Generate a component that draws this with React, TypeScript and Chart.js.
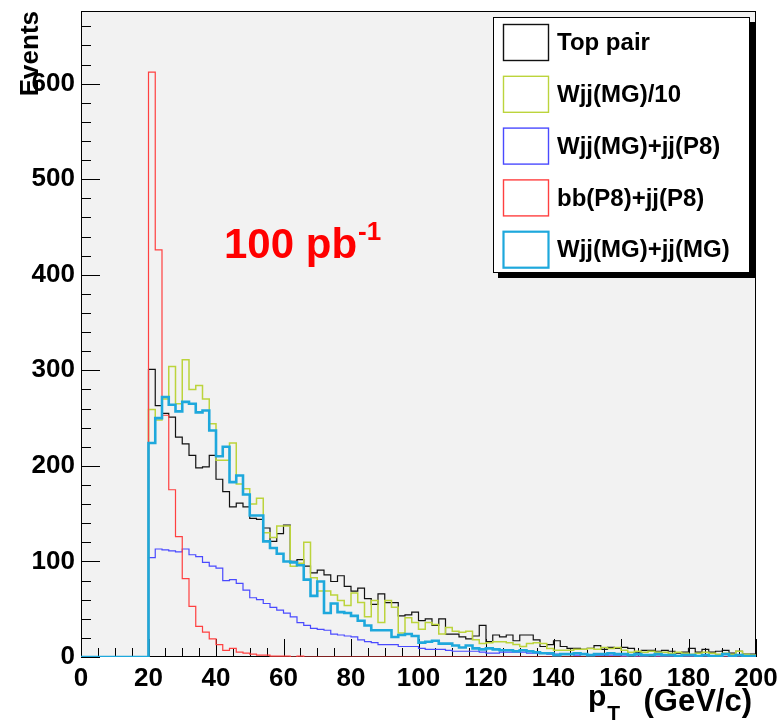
import { useEffect, useRef } from 'react';
import { Chart, registerables } from 'chart.js';
Chart.register(...registerables);

// Bin lower edges (GeV/c), 2 GeV bins
const binEdges = [
  0, 2, 4, 6, 8, 10, 12, 14, 16, 18, 20, 22, 24, 26, 28, 30, 32, 34, 36, 38,
  40, 42, 44, 46, 48, 50, 52, 54, 56, 58, 60, 62, 64, 66, 68, 70, 72, 74, 76, 78,
  80, 82, 84, 86, 88, 90, 92, 94, 96, 98, 100, 102, 104, 106, 108, 110, 112, 114, 116, 118,
  120, 122, 124, 126, 128, 130, 132, 134, 136, 138, 140, 142, 144, 146, 148, 150, 152, 154, 156, 158,
  160, 162, 164, 166, 168, 170, 172, 174, 176, 178, 180, 182, 184, 186, 188, 190, 192, 194, 196, 198,
];
const xMax = 200;
const yMax = 676;

const topPair = [
  0, 0, 0, 0, 0, 0, 0, 0, 0, 0,
  301, 263, 255, 251, 230, 223, 211, 198, 199, 211,
  186, 173, 157, 161, 157, 145, 144, 135, 121, 129,
  138, 100, 102, 95, 88, 91, 86, 79, 85, 74,
  69, 72, 61, 55, 66, 57, 57, 43, 44, 47,
  38, 40, 33, 40, 24, 24, 21, 19, 22, 33,
  16, 23, 21, 23, 17, 23, 23, 18, 11, 13,
  17, 11, 9, 9, 8, 9, 12, 8, 10, 9,
  10, 9, 5, 7, 7, 6, 7, 6, 4, 5,
  9, 5, 8, 5, 6, 7, 4, 6, 3, 3,
];
const wjjMG10 = [
  0, 0, 0, 0, 0, 0, 0, 0, 0, 0,
  259, 248, 270, 304, 265, 311, 280, 284, 270, 244,
  206, 206, 224, 181, 176, 160, 166, 130, 125, 137,
  137, 95, 98, 120, 83, 69, 69, 65, 59, 54,
  67, 57, 42, 59, 36, 59, 52, 25, 41, 36,
  29, 36, 34, 24, 31, 27, 26, 27, 18, 14,
  15, 16, 16, 15, 13, 11, 14, 15, 14, 9,
  7, 7, 7, 8, 8, 9, 8, 10, 9, 10,
  7, 5, 6, 5, 6, 5, 5, 4, 5, 4,
  3, 4, 5, 4, 3, 4, 3, 6, 3, 2,
];
const wjjMGjjP8 = [
  0, 0, 0, 0, 0, 0, 0, 0, 0, 0,
  104, 113, 112, 111, 110, 113, 107, 105, 99, 95,
  93, 80, 81, 77, 70, 62, 60, 56, 52, 49,
  46, 42, 36, 33, 30, 29, 28, 24, 23, 22,
  21, 18, 16, 15, 13, 13, 13, 11, 11, 11,
  9, 8, 8, 8, 7, 6, 6, 6, 6, 5,
  4, 4, 5, 5, 5, 5, 4, 4, 4, 3,
  3, 3, 3, 2, 3, 2, 2, 2, 2, 2,
  1, 2, 1, 1, 2, 1, 1, 1, 1, 1,
  1, 1, 0, 1, 1, 0, 1, 0, 1, 0,
];
const bbP8jjP8 = [
  0, 0, 0, 0, 0, 0, 0, 0, 0, 0,
  612, 426, 253, 175, 126, 82, 53, 32, 26, 19,
  13, 7, 9, 5, 4, 3, 2, 2, 1, 1,
  1, 0, 1, 0, 0, 0, 0, 0, 0, 0,
  0, 0, 0, 0, 0, 0, 0, 0, 0, 0,
  0, 0, 0, 0, 0, 0, 0, 0, 0, 0,
  0, 0, 0, 0, 0, 0, 0, 0, 0, 0,
  0, 0, 0, 0, 0, 0, 0, 0, 0, 0,
  0, 0, 0, 0, 0, 0, 0, 0, 0, 0,
  0, 0, 0, 0, 0, 0, 0, 0, 0, 0,
];
const wjjMGjjMG = [
  0, 0, 0, 0, 0, 0, 0, 0, 0, 0,
  224, 250, 272, 264, 257, 267, 265, 256, 258, 237,
  210, 220, 183, 190, 170, 148, 148, 121, 114, 108,
  100, 99, 96, 81, 64, 79, 46, 56, 47, 46,
  43, 38, 33, 28, 28, 28, 21, 23, 24, 22,
  15, 16, 17, 14, 14, 12, 10, 12, 9, 8,
  9, 8, 7, 7, 6, 7, 6, 5, 4, 4,
  2, 3, 3, 4, 3, 2, 3, 3, 4, 3,
  3, 2, 3, 2, 2, 3, 2, 2, 1, 2,
  2, 1, 2, 1, 1, 3, 1, 2, 1, 1,
];

const seriesLabels = ['Top pair', 'Wjj(MG)/10', 'Wjj(MG)+jj(P8)', 'bb(P8)+jj(P8)', 'Wjj(MG)+jj(MG)'];
const seriesValues = [topPair, wjjMG10, wjjMGjjP8, bbP8jjP8, wjjMGjjMG];
const seriesColors = ['#111111', '#bcd43c', '#4a4aff', '#ff4040', '#1ea8dc'];
const seriesWidths = [1.2, 1.5, 1.2, 1.2, 2.6];
const seriesOrder = [4, 3, 2, 1, 0];

const FONT = '"Liberation Sans", Arial, Helvetica, sans-serif';

function histPoints(values: number[]) {
  const pts = binEdges.map((x, i) => ({ x, y: values[i] }));
  pts.push({ x: xMax, y: values[values.length - 1] });
  return pts;
}

const rootPlugin = {
  id: 'rootStyle',
  beforeDatasetsDraw(chart: any) {
    const { ctx, chartArea: a, scales } = chart;
    const xs = scales.x;
    const ys = scales.y;
    ctx.save();
    ctx.fillStyle = '#f2f2f2';
    ctx.fillRect(a.left, a.top, a.right - a.left, a.bottom - a.top);
    ctx.strokeStyle = '#000';
    ctx.lineWidth = 1;
    ctx.strokeRect(a.left + 0.5, a.top + 0.5, a.right - a.left - 1, a.bottom - a.top - 1);
    ctx.beginPath();
    for (let v = 0; v <= xMax; v += 5) {
      const px = Math.round(xs.getPixelForValue(v)) + 0.5;
      const len = v % 20 === 0 ? 18 : 9;
      ctx.moveTo(px, a.bottom);
      ctx.lineTo(px, a.bottom - len);
    }
    for (let v = 0; v <= yMax; v += 20) {
      const py = Math.round(ys.getPixelForValue(v)) + 0.5;
      const len = v % 100 === 0 ? 19 : 10;
      ctx.moveTo(a.left, py);
      ctx.lineTo(a.left + len, py);
    }
    ctx.stroke();
    ctx.restore();
  },
  afterDraw(chart: any) {
    const { ctx, chartArea: a } = chart;
    ctx.save();
    // Legend box
    const lgL = a.right - 263;
    const lgT = a.top + 6;
    const lgW = 257;
    const lgH = 256;
    ctx.fillStyle = '#000';
    ctx.fillRect(lgL + 5, lgT + 5, lgW, lgH);
    ctx.fillStyle = '#fff';
    ctx.fillRect(lgL, lgT, lgW, lgH);
    ctx.strokeStyle = '#000';
    ctx.lineWidth = 1;
    ctx.strokeRect(lgL + 0.5, lgT + 0.5, lgW - 1, lgH - 1);
    ctx.font = `bold 24px ${FONT}`;
    ctx.textBaseline = 'middle';
    ctx.textAlign = 'left';
    seriesLabels.forEach((label, i) => {
      const cy = lgT + 25.5 + i * 51.8;
      ctx.strokeStyle = seriesColors[i];
      ctx.lineWidth = i === 4 ? 2.2 : 1.4;
      ctx.strokeRect(lgL + 10.5, cy - 18, 45, 36);
      ctx.fillStyle = '#000';
      ctx.fillText(label, lgL + 64, cy + 1);
    });
    // Luminosity label
    ctx.fillStyle = '#ff0000';
    ctx.textBaseline = 'alphabetic';
    ctx.font = `bold 42px ${FONT}`;
    const main = '100 pb';
    ctx.fillText(main, 224, 258);
    const w = ctx.measureText(main).width;
    ctx.font = `bold 26px ${FONT}`;
    ctx.fillText('-1', 224 + w + 1, 240);
    // X title  p_T (GeV/c)
    ctx.fillStyle = '#000';
    ctx.textAlign = 'left';
    ctx.font = `bold 30px ${FONT}`;
    ctx.fillText('p', 588, 706);
    const pw = ctx.measureText('p').width;
    ctx.font = `bold 21px ${FONT}`;
    ctx.fillText('T', 588 + pw + 1, 720);
    ctx.textAlign = 'right';
    ctx.font = `bold 31px ${FONT}`;
    ctx.fillText('(GeV/c)', 752, 711);
    ctx.restore();
  },
};

export default function App() {
  const ref = useRef<HTMLCanvasElement | null>(null);
  useEffect(() => {
    if (!ref.current) return;
    const chart = new Chart(ref.current, {
      type: 'line',
      data: {
        datasets: seriesLabels.map((label, i) => ({
          label,
          data: histPoints(seriesValues[i]),
          borderColor: seriesColors[i],
          borderWidth: seriesWidths[i],
          backgroundColor: 'transparent',
          fill: false,
          stepped: true,
          pointRadius: 0,
          pointHoverRadius: 0,
          tension: 0,
          order: seriesOrder[i],
        })),
      },
      plugins: [rootPlugin],
      options: {
        responsive: false,
        animation: false,
        events: [],
        layout: { padding: { left: 0, right: 27, top: 11, bottom: 0 } },
        plugins: { legend: { display: false }, tooltip: { enabled: false }, title: { display: false } },
        scales: {
          x: {
            type: 'linear',
            min: 0,
            max: xMax,
            grid: { display: false, drawTicks: false },
            border: { display: false },
            ticks: {
              stepSize: 20,
              autoSkip: false,
              maxRotation: 0,
              padding: 6,
              color: '#000',
              font: { family: FONT, size: 26, weight: 'bold' },
            },
            afterFit(s: any) {
              s.height = 70;
              s.paddingLeft = 0;
              s.paddingRight = 0;
            },
          },
          y: {
            type: 'linear',
            min: 0,
            max: yMax,
            grid: { display: false, drawTicks: false },
            border: { display: false },
            ticks: {
              stepSize: 100,
              includeBounds: false,
              padding: 6,
              color: '#000',
              font: { family: FONT, size: 26, weight: 'bold' },
            },
            title: {
              display: true,
              text: 'Events',
              align: 'end',
              color: '#000',
              font: { family: FONT, size: 26, weight: 'bold' },
              padding: { top: 15, bottom: 0 },
            },
            afterFit(s: any) {
              s.width = 81;
              s.paddingTop = 0;
              s.paddingBottom = 0;
            },
          },
        },
      },
    } as any);
    return () => chart.destroy();
  }, []);
  return (
    <div style={{ position: 'fixed', left: 0, top: 0, width: 783, height: 727, background: '#fff' }}>
      <canvas ref={ref} width={783} height={727} style={{ display: 'block' }} />
    </div>
  );
}
